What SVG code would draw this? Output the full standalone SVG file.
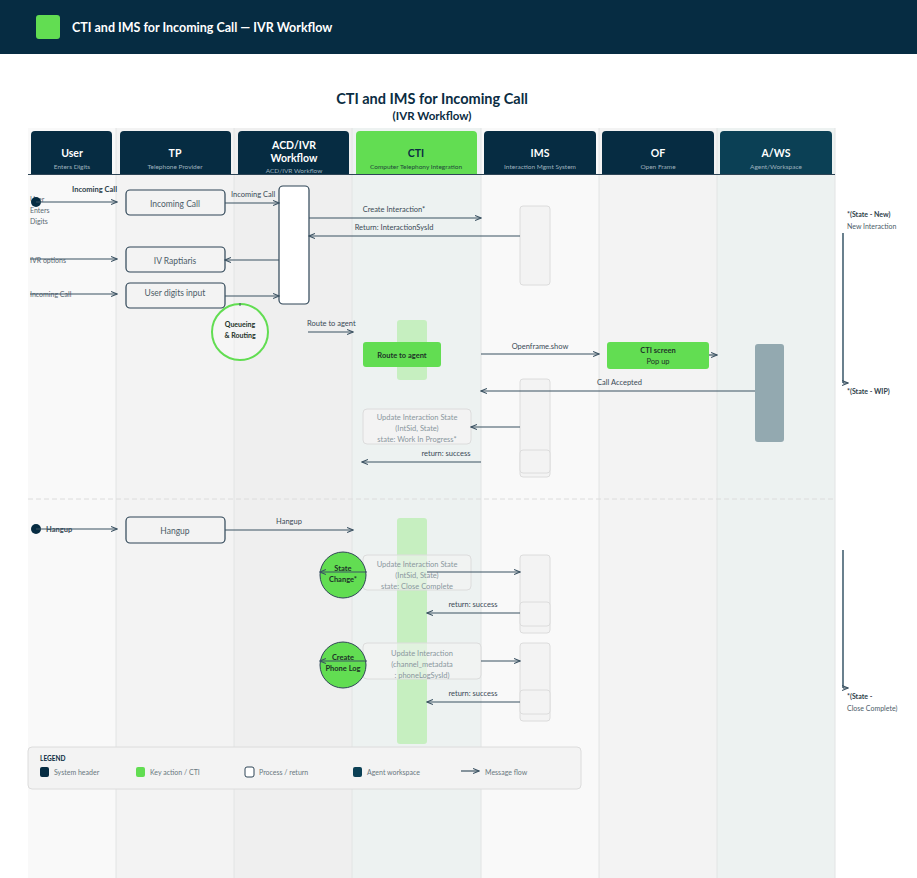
<svg xmlns="http://www.w3.org/2000/svg" width="917" height="878" viewBox="0 0 917 878">
<style>
text{font-family:Lato,"Liberation Sans",sans-serif}
.hn{font-size:10.5px;font-weight:bold;fill:#fff;text-anchor:middle}
.hs{font-size:6.5px;fill:#9fb2be;text-anchor:middle}
.bx{fill:none;stroke:#2e4556;stroke-width:1.2}
.bt{font-size:8.5px;fill:#4c5c68;text-anchor:middle}
.lb{font-size:7.5px;fill:#3a4a56}
.sm{font-size:7px;fill:#5a6872}
.ln{stroke:#3b5262;stroke-width:1.2;fill:none;marker-end:url(#ah)}
.ims{fill:#f3f3f3;stroke:#dcdcdc;stroke-width:1}
.gb{fill:#c6efc0}
.gt{font-size:7.5px;font-weight:bold;fill:#1d3328;text-anchor:middle}
.up{font-size:7.5px;fill:#8a979e;text-anchor:middle}
.lg{font-size:7px;fill:#6a7880}
</style>
<defs>
<marker id="ah" markerWidth="7" markerHeight="6" refX="6" refY="3" orient="auto" markerUnits="userSpaceOnUse">
<path d="M0,0.5 L6,3 L0,5.5" fill="none" stroke="#3b5262" stroke-width="1.1"/>
</marker>
</defs>
<rect width="917" height="878" fill="#fff"/>
<!-- top bar -->
<g id="topbar">
<rect x="0" y="0" width="917" height="54" fill="#062c42"/>
<rect x="36" y="15" width="24" height="24" rx="3" fill="#62dd52"/>
<text x="72" y="32" font-size="12.5" font-weight="bold" fill="#fff">CTI and IMS for Incoming Call — IVR Workflow</text>
</g>
<g id="title">
<text x="432" y="104" font-size="14.5" font-weight="bold" fill="#0a2c42" text-anchor="middle">CTI and IMS for Incoming Call</text>
<text x="432" y="120" font-size="11.5" font-weight="bold" fill="#0a2c42" text-anchor="middle">(IVR Workflow)</text>
</g>
<!-- lanes -->
<g id="lanes">
<rect x="28" y="128" width="88" height="750" fill="#f9f9f9"/>
<rect x="116" y="128" width="118" height="750" fill="#f3f3f3"/>
<rect x="234" y="128" width="118" height="750" fill="#efefef"/>
<rect x="352" y="128" width="129" height="750" fill="#edf2f1"/>
<rect x="481" y="128" width="118" height="750" fill="#f9f9f9"/>
<rect x="599" y="128" width="118" height="750" fill="#f3f3f3"/>
<rect x="717" y="128" width="118" height="750" fill="#edf2f1"/>
<g stroke="#e2e4e4" stroke-width="1">
<line x1="116" y1="128" x2="116" y2="878"/>
<line x1="234" y1="128" x2="234" y2="878"/>
<line x1="352" y1="128" x2="352" y2="878"/>
<line x1="481" y1="128" x2="481" y2="878"/>
<line x1="599" y1="128" x2="599" y2="878"/>
<line x1="717" y1="128" x2="717" y2="878"/>
<line x1="835" y1="128" x2="835" y2="878"/>
</g>
<line x1="28" y1="499" x2="835" y2="499" stroke="#dcdcdc" stroke-dasharray="5,3"/>
</g>
<!-- headers -->
<g id="headers">
<path d="M31,174 V135 a4,4 0 0 1 4,-4 H108 a4,4 0 0 1 4,4 V174 Z" fill="#062c42"/>
<path d="M120,174 V135 a4,4 0 0 1 4,-4 H227 a4,4 0 0 1 4,4 V174 Z" fill="#062c42"/>
<path d="M238,174 V135 a4,4 0 0 1 4,-4 H345 a4,4 0 0 1 4,4 V174 Z" fill="#062c42"/>
<path d="M356,174 V135 a4,4 0 0 1 4,-4 H473 a4,4 0 0 1 4,4 V174 Z" fill="#62dd52"/>
<path d="M484,174 V135 a4,4 0 0 1 4,-4 H592 a4,4 0 0 1 4,4 V174 Z" fill="#062c42"/>
<path d="M602,174 V135 a4,4 0 0 1 4,-4 H710 a4,4 0 0 1 4,4 V174 Z" fill="#062c42"/>
<path d="M720,174 V135 a4,4 0 0 1 4,-4 H828 a4,4 0 0 1 4,4 V174 Z" fill="#0b4055"/>
<line x1="28" y1="174.5" x2="835" y2="174.5" stroke="#2e4556" stroke-width="1"/>
<text class="hn" x="72" y="157">User</text><text class="hs" x="72" y="169">Enters Digits</text>
<text class="hn" x="175" y="157">TP</text><text class="hs" x="175" y="169">Telephone Provider</text>
<text class="hn" x="294" y="149">ACD/IVR</text><text class="hn" x="294" y="162">Workflow</text><text class="hs" x="294" y="173">ACD/IVR Workflow</text>
<text class="hn" x="416" y="157" fill="#0a2c42" style="fill:#0a2c42">CTI</text><text class="hs" x="416" y="169" style="fill:#1f4a3a">Computer Telephony Integration</text>
<text class="hn" x="540" y="157">IMS</text><text class="hs" x="540" y="169">Interaction Mgmt System</text>
<text class="hn" x="658" y="157">OF</text><text class="hs" x="658" y="169">Open Frame</text>
<text class="hn" x="776" y="157">A/WS</text><text class="hs" x="776" y="169">Agent/Workspace</text>
</g>
<!-- user lane texts -->
<g id="user-start">
<text class="sm" x="30" y="202">User</text>
<text class="sm" x="30" y="213">Enters</text>
<text class="sm" x="30" y="224">Digits</text>
<circle cx="36" cy="202" r="5" fill="#062c42"/>
<text x="117" y="192" font-size="7.5" font-weight="bold" fill="#2e3e4a" text-anchor="end">Incoming Call</text>
<text class="sm" x="30" y="263">IVR options</text>
<text class="sm" x="30" y="297">Incoming Call</text>
</g>
<g id="hangup-start">
<circle cx="36" cy="529" r="5" fill="#062c42"/>
<text x="46" y="532" font-size="7.5" font-weight="bold" fill="#3a4a56">Hangup</text>
</g>
<!-- TP boxes -->
<g id="tp-incoming"><rect class="bx" x="126" y="190" width="99" height="25" rx="4"/><text class="bt" x="175" y="207">Incoming Call</text></g>
<g id="tp-ivr"><rect class="bx" x="126" y="247" width="99" height="25" rx="4"/><text class="bt" x="175" y="264">IV Raptiaris</text></g>
<g id="tp-digits"><rect class="bx" x="126" y="283" width="99" height="25" rx="4"/><text class="bt" x="175" y="296">User digits input</text></g>
<g id="tp-hangup"><rect class="bx" x="126" y="517" width="99" height="26" rx="4"/><text class="bt" x="175" y="534">Hangup</text></g>
<!-- ACD -->
<g id="acd-bar"><rect x="279" y="186" width="30" height="118" rx="4" fill="#fff" stroke="#2e4556" stroke-width="1.2"/></g>
<g id="queueing"><circle cx="240" cy="332" r="28" fill="#fff" fill-opacity="0.3" stroke="#62dd52" stroke-width="2"/><line x1="240" y1="303" x2="240" y2="306" stroke="#3b5262"/><text class="gt" x="240" y="327" style="font-size:7px">Queueing</text><text class="gt" x="240" y="338" style="font-size:7px">&amp; Routing</text></g>
<!-- IMS boxes -->
<g id="ims-1"><rect class="ims" x="520" y="206" width="30" height="79" rx="3"/></g>
<g id="ims-2"><rect class="ims" x="520" y="379" width="30" height="98" rx="3"/><rect class="ims" x="520" y="450" width="30" height="23" rx="3"/></g>
<g id="ims-3"><rect class="ims" x="520" y="555" width="30" height="78" rx="3"/><rect class="ims" x="520" y="602" width="30" height="24" rx="3"/></g>
<g id="ims-4"><rect class="ims" x="520" y="643" width="30" height="78" rx="3"/><rect class="ims" x="520" y="690" width="30" height="24" rx="3"/></g>
<!-- CTI -->
<g id="cti-bar1"><rect class="gb" x="397" y="320" width="30" height="60" rx="3"/></g>
<g id="route-agent"><rect x="363" y="342" width="78" height="25" rx="3" fill="#62dd52"/><text class="gt" x="402" y="358">Route to agent</text></g>
<g id="update-wip"><rect class="ims" x="363" y="409" width="108" height="35" rx="4"/><text class="up" x="417" y="420">Update Interaction State</text><text class="up" x="417" y="431">(IntSid, State)</text><text class="up" x="417" y="442">state: Work In Progress*</text></g>
<g id="cti-bar2"><rect class="gb" x="397" y="518" width="30" height="226" rx="3"/></g>
<g id="update-close"><rect class="ims" x="363" y="555" width="108" height="35" rx="4" fill-opacity="0.6"/><text class="up" x="417" y="567">Update Interaction State</text><text class="up" x="417" y="578">(IntSid, State)</text><text class="up" x="417" y="589">state: Close Complete</text></g>
<g id="update-phone"><rect class="ims" x="363" y="643" width="118" height="36" rx="4" fill-opacity="0.6"/><text class="up" x="422" y="656">Update Interaction</text><text class="up" x="422" y="667">(channel_metadata</text><text class="up" x="422" y="678">: phoneLogSysId)</text></g>
<g id="state-change"><circle cx="343" cy="575" r="23" fill="#62dd52" stroke="#2e4556" stroke-width="1"/><text class="gt" x="343" y="571">State</text><text class="gt" x="343" y="582">Change*</text></g>
<g id="phone-log"><circle cx="343" cy="665" r="23" fill="#62dd52" stroke="#2e4556" stroke-width="1"/><text class="gt" x="343" y="660">Create</text><text class="gt" x="343" y="671">Phone Log</text></g>
<!-- OF / AWS -->
<g id="cti-screen"><rect x="607" y="342" width="102" height="27" rx="3" fill="#62dd52"/><text class="gt" x="658" y="353">CTI screen</text><text x="658" y="364" font-size="7.5" fill="#1d3328" text-anchor="middle">Pop up</text></g>
<g id="aws-bar"><rect x="755" y="344" width="29" height="98" rx="3" fill="#93a9b0"/></g>
<!-- connectors -->
<g id="connectors">
<line class="ln" x1="36" y1="202" x2="117" y2="202"/>
<line class="ln" x1="225" y1="203" x2="279" y2="203"/>
<text class="lb" x="231" y="197">Incoming Call</text>
<line class="ln" x1="309" y1="218" x2="481" y2="218"/>
<text class="lb" x="394" y="212" text-anchor="middle">Create Interaction*</text>
<line class="ln" x1="520" y1="236" x2="309" y2="236"/>
<text class="lb" x="394" y="230" text-anchor="middle">Return: InteractionSysId</text>
<line class="ln" x1="30" y1="259" x2="117" y2="259"/>
<line class="ln" x1="279" y1="260" x2="225" y2="260"/>
<line class="ln" x1="30" y1="294" x2="117" y2="294"/>
<line class="ln" x1="225" y1="296" x2="279" y2="296"/>
<text class="lb" x="307" y="326">Route to agent</text>
<line class="ln" x1="308" y1="332" x2="353" y2="332"/>
<line class="ln" x1="481" y1="354" x2="599" y2="354"/>
<text class="lb" x="540" y="349" text-anchor="middle">Openframe.show</text>
<line class="ln" x1="709" y1="355" x2="717" y2="355"/>
<line class="ln" x1="755" y1="391" x2="481" y2="391"/>
<text class="lb" x="597" y="385">Call Accepted</text>
<line class="ln" x1="520" y1="427" x2="471" y2="427"/>
<text class="lb" x="446" y="456" text-anchor="middle">return: success</text>
<line class="ln" x1="481" y1="462" x2="362" y2="462"/>
<line class="ln" x1="36" y1="529" x2="117" y2="529"/>
<line class="ln" x1="225" y1="530" x2="353" y2="530"/>
<text class="lb" x="289" y="524" text-anchor="middle">Hangup</text>
<line class="ln" x1="367" y1="572" x2="320" y2="572"/>
<line class="ln" x1="427" y1="572" x2="520" y2="572"/>
<text class="lb" x="473" y="607" text-anchor="middle">return: success</text>
<line class="ln" x1="520" y1="613" x2="427" y2="613"/>
<line class="ln" x1="367" y1="661" x2="320" y2="661"/>
<line class="ln" x1="481" y1="661" x2="520" y2="661"/>
<text class="lb" x="473" y="696" text-anchor="middle">return: success</text>
<line class="ln" x1="520" y1="702" x2="427" y2="702"/>
</g>
<!-- state annotations -->
<g id="state-new">
<text x="847" y="217" font-size="7" font-weight="bold" fill="#2e3e4a">*(State - New)</text>
<text x="847" y="229" font-size="7" fill="#4c5c68">New Interaction</text>
<line x1="843" y1="233" x2="843" y2="383" stroke="#062c42" stroke-width="1.2"/>
<line class="ln" x1="843" y1="383" x2="848" y2="383"/>
<text x="847" y="394" font-size="7" font-weight="bold" fill="#2e3e4a">*(State - WIP)</text>
</g>
<g id="state-close">
<line x1="843" y1="550" x2="843" y2="688" stroke="#062c42" stroke-width="1.2"/>
<line class="ln" x1="843" y1="688" x2="848" y2="688"/>
<text x="847" y="699" font-size="7" font-weight="bold" fill="#2e3e4a">*(State -</text>
<text x="847" y="711" font-size="7" fill="#4c5c68">Close Complete)</text>
</g>
<!-- legend -->
<g id="legend">
<rect x="28" y="747" width="553" height="42" rx="4" fill="#f3f3f3" stroke="#dcdcdc"/>
<text x="40" y="761" font-size="6.5" font-weight="bold" fill="#0a2c42">LEGEND</text>
<rect x="40" y="767" width="9" height="10" rx="2" fill="#062c42"/>
<text class="lg" x="54" y="775">System header</text>
<rect x="136" y="767" width="9" height="10" rx="2" fill="#62dd52"/>
<text class="lg" x="150" y="775">Key action / CTI</text>
<rect x="245" y="767" width="9" height="10" rx="2" fill="#fff" stroke="#2e4556"/>
<text class="lg" x="259" y="775">Process / return</text>
<rect x="353" y="767" width="9" height="10" rx="2" fill="#0b4055"/>
<text class="lg" x="367" y="775">Agent workspace</text>
<line class="ln" x1="461" y1="771" x2="479" y2="771"/>
<text class="lg" x="485" y="775">Message flow</text>
</g>
</svg>
